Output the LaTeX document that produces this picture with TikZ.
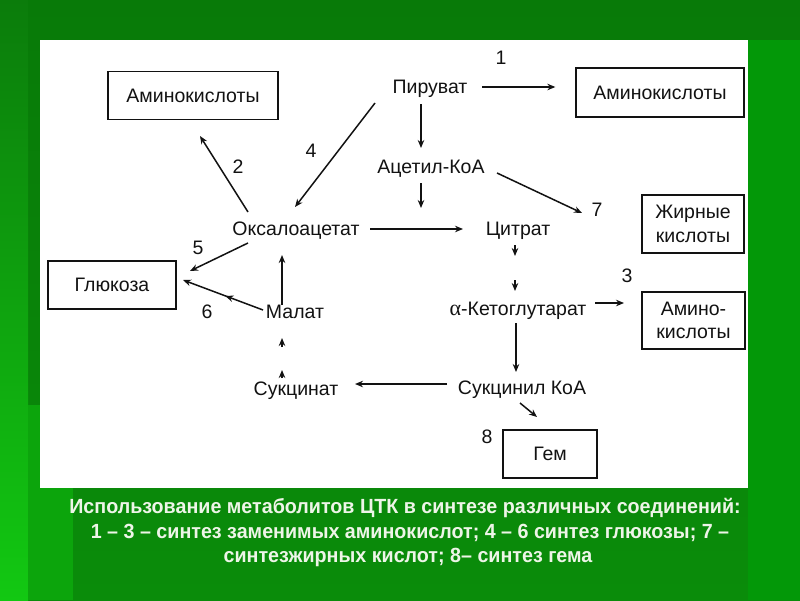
\documentclass[tikz,border=0pt]{standalone}
\usepackage{fontspec}
\setmainfont{Liberation Sans}
\newfontfamily\capfont{Liberation Sans}[FakeStretch=0.96]
\newfontfamily\grkfont{Liberation Serif}
\usetikzlibrary{arrows.meta,decorations.markings}
\definecolor{ink}{HTML}{121212}
\definecolor{captxt}{HTML}{EEF5E8}
\definecolor{bgtop}{HTML}{087A08}
\definecolor{bgbot}{HTML}{0A8C0A}
\definecolor{bgright}{HTML}{039808}
\definecolor{stripa}{HTML}{0B7C0B}
\definecolor{stripb}{HTML}{12C812}
\definecolor{stripc}{HTML}{0CA50C}
\begin{document}
\begin{tikzpicture}[x=1pt,y=-1pt,
  lbl/.style={font=\fontsize{19.5}{23}\selectfont, inner sep=0pt, text=ink},
  num/.style={font=\fontsize{19.5}{23}\selectfont, inner sep=0pt, text=ink},
  box/.style={draw=ink, line width=1.3pt, font=\fontsize{19.5}{23.5}\selectfont, text=ink, align=center, inner sep=0pt},
  arr/.style={draw=ink, line width=1.5pt, -{Stealth[length=8pt,width=6.5pt]}},
  capline/.style={font=\capfont\bfseries\fontsize{20.5}{24}\selectfont, text=captxt, inner sep=0pt}]
\useasboundingbox (0,0) rectangle (800,600);
% background
\shade[top color=bgtop, bottom color=bgbot] (0,0) rectangle (800,600);
\fill[bgright] (748,40) rectangle (800,600);
\shade[top color=stripa, bottom color=stripb] (0,0) rectangle (28,600);
\fill[stripc] (28,405) rectangle (73,600);
% white panel
\fill[white] (40,40) rectangle (748,488);

% metabolites
\node[lbl] (pyr)  at (430,89)  {Пируват};
\node[lbl] (acoa) at (431,169) {Ацетил-КоА};
\node[lbl] (oxa)  at (296,231) {Оксалоацетат};
\node[lbl] (cit)  at (518,231) {Цитрат};
\node[lbl] (akg)  at (518,311) {{\grkfont\fontsize{22}{23}\selectfont α}-Кетоглутарат};
\node[lbl] (sca)  at (522,390) {Сукцинил КоА};
\node[lbl] (suc)  at (296,391) {Сукцинат};
\node[lbl] (mal)  at (295,312) {Малат};

% boxes
\node[box, minimum width=170pt, minimum height=48pt] (amL) at (193,95.5) {Аминокислоты};
\node[box, minimum width=168pt, minimum height=49pt] (amR) at (660,92.5) {Аминокислоты};
\node[box, minimum width=102pt, minimum height=58pt] (fat) at (693,224) {Жирные\\кислоты};
\node[box, minimum width=103pt, minimum height=57pt] (am3) at (693.5,320.5) {Амино-\\кислоты};
\node[box, minimum width=128pt, minimum height=48pt] (glu) at (112,285) {Глюкоза};
\node[box, minimum width=94pt, minimum height=48pt] (gem) at (550,454) {Гем};

% numbers
\node[num] (l1) at (501,58) {1};
\node[num] (l2) at (238,167) {2};
\node[num] (l3) at (627,276) {3};
\node[num] (l4) at (311,151) {4};
\node[num] (l5) at (198,248) {5};
\node[num] (l6) at (207,312) {6};
\node[num] (l7) at (597,210) {7};
\node[num] (l8) at (487,437) {8};

% arrows
\draw[arr] ([shift={(52,-2)}]pyr.center) -- ([shift={(-20,-5.5)}]amR.west);
\draw[arr] ([shift={(-9,15)}]pyr.center) -- ([shift={(-10,-21)}]acoa.center);
\draw[arr] ([shift={(-55,14)}]pyr.center) -- ([shift={(-1,-24)}]oxa.center);
\draw[arr] ([shift={(-48,-19)}]oxa.center) -- ([shift={(7,40.5)}]amL.center);
\draw[arr] ([shift={(66,4)}]acoa.center) -- ([shift={(-15,3)}]l7.center);
\draw[arr] ([shift={(-10,14)}]acoa.center) -- ([shift={(-10,39)}]acoa.center);
\draw[arr] ([shift={(74,-2)}]oxa.center) -- ([shift={(-55,-2)}]cit.center);
\draw[arr] ([shift={(-3,14)}]cit.center) -- ([shift={(-3,25)}]cit.center);
\draw[arr] ([shift={(-3,-31)}]akg.center) -- ([shift={(-3,-20)}]akg.center);
\draw[arr] ([shift={(77,-8)}]akg.center) -- ([shift={(-69.5,-17.5)}]am3.center);
\draw[arr] ([shift={(-2,12)}]akg.center) -- ([shift={(-6,-18)}]sca.center);
\draw[arr] ([shift={(-2,13)}]sca.center) -- ([shift={(-13,-37)}]gem.center);
\draw[arr] ([shift={(-75,-6)}]sca.center) -- ([shift={(59,-7)}]suc.center);
\draw[arr] ([shift={(-14,-13)}]suc.center) -- ([shift={(-14,-21)}]suc.center);
\draw[arr] ([shift={(-13,35)}]mal.center) -- ([shift={(-13,26)}]mal.center);
\draw[arr] ([shift={(-13,-7)}]mal.center) -- ([shift={(-14,24)}]oxa.center);
\draw[arr, postaction={decorate}, decoration={markings, mark=at position 0.47 with {\arrow{Stealth[length=8pt,width=6.5pt]}}}]
  ([shift={(-32,-2)}]mal.center) -- ([shift={(71,-5)}]glu.center);
\draw[arr] ([shift={(-48,12)}]oxa.center) -- ([shift={(78,-14)}]glu.center);

% caption
\node[capline] (c1) at (405,508) {Использование метаболитов ЦТК в синтезе различных соединений:};
\node[capline] (c2) at (410,533) {1 – 3 – синтез заменимых аминокислот; 4 – 6 синтез глюкозы; 7 –};
\node[capline] (c3) at (408,557) {синтезжирных кислот; 8– синтез гема};
\end{tikzpicture}
\end{document}
